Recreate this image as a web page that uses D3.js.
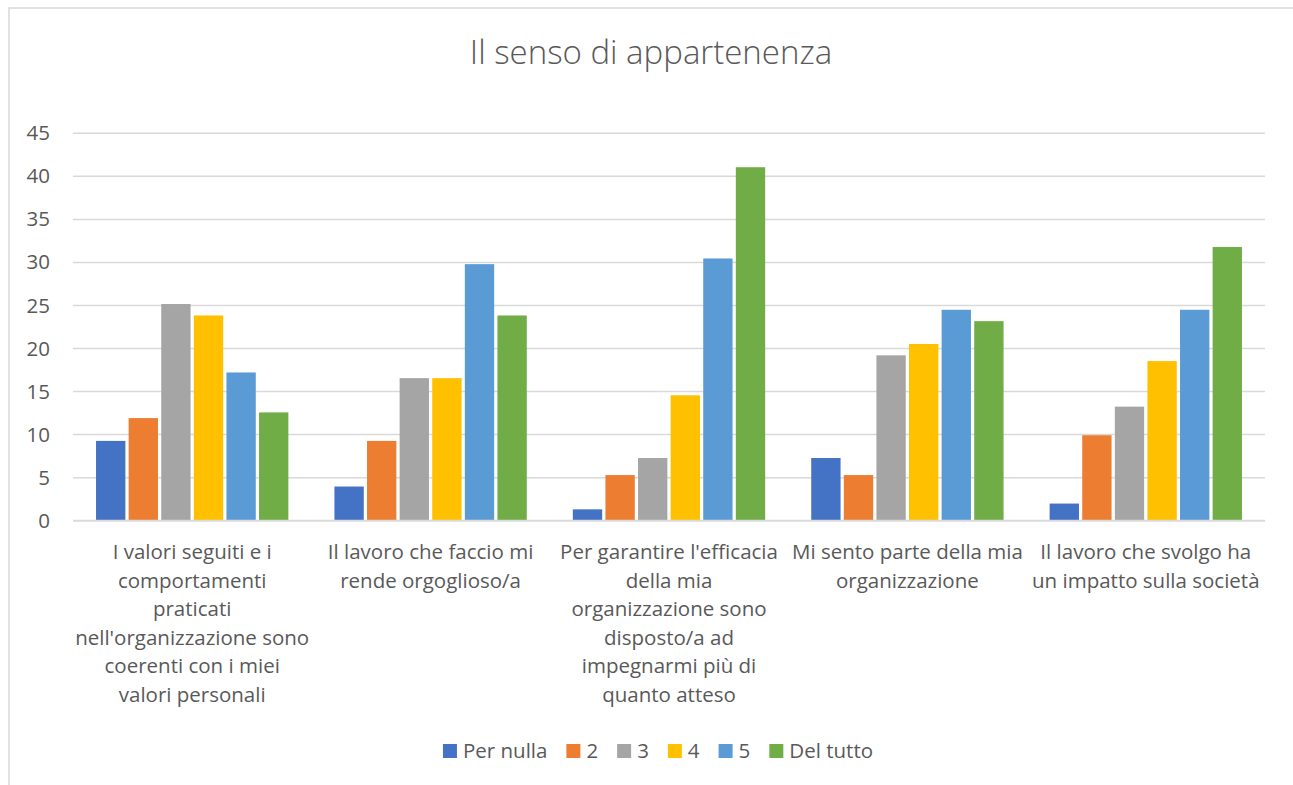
<!DOCTYPE html>
<html>
<head>
<meta charset="utf-8">
<script src="https://cdn.jsdelivr.net/npm/d3@7"></script>
<style>
  html, body { margin: 0; padding: 0; background: #fff; }
  svg { display: block; }
  text { font-family: "Open Sans", "Noto Sans", sans-serif; fill: #595959; }
</style>
</head>
<body>
<svg id="chart" width="1293" height="785"></svg>
<script>
// ---- data ----
const title = "Il senso di appartenenza";
const categories = [
  "I valori seguiti e i comportamenti praticati nell'organizzazione sono coerenti con i miei valori personali",
  "Il lavoro che faccio mi rende orgoglioso/a",
  "Per garantire l'efficacia della mia organizzazione sono disposto/a ad impegnarmi più di quanto atteso",
  "Mi sento parte della mia organizzazione",
  "Il lavoro che svolgo ha un impatto sulla società"
];
const categoryLines = [
  ["I valori seguiti e i", "comportamenti", "praticati", "nell'organizzazione sono", "coerenti con i miei", "valori personali"],
  ["Il lavoro che faccio mi", "rende orgoglioso/a"],
  ["Per garantire l'efficacia", "della mia", "organizzazione sono", "disposto/a ad", "impegnarmi più di", "quanto atteso"],
  ["Mi sento parte della mia", "organizzazione"],
  ["Il lavoro che svolgo ha", "un impatto sulla società"]
];
const seriesNames = ["Per nulla", "2", "3", "4", "5", "Del tutto"];
const perNulla = [9.27, 3.97, 1.32, 7.28, 1.99];
const s2 = [11.92, 9.27, 5.30, 5.30, 9.93];
const s3 = [25.17, 16.56, 7.28, 19.21, 13.25];
const s4 = [23.84, 16.56, 14.57, 20.53, 18.54];
const s5 = [17.22, 29.80, 30.46, 24.50, 24.50];
const delTutto = [12.58, 23.84, 41.06, 23.18, 31.79];
const seriesValues = [perNulla, s2, s3, s4, s5, delTutto];
const yTicks = [0, 5, 10, 15, 20, 25, 30, 35, 40, 45];
const colors = ["#4472C4", "#ED7D31", "#A5A5A5", "#FFC000", "#5B9BD5", "#70AD47"];

// ---- layout ----
const svg = d3.select("#chart");
const plotLeft = 73, plotRight = 1265, plotTop = 133.3, plotBottom = 520.7;

// chart frame
svg.append("rect")
  .attr("x", 9).attr("y", 8).attr("width", 1400).attr("height", 900)
  .attr("fill", "#fff").attr("stroke", "#d9d9d9").attr("stroke-width", 1.5);

// title
svg.append("text")
  .attr("x", 651).attr("y", 64)
  .attr("text-anchor", "middle")
  .style("font-size", "33px").style("font-weight", 300)
  .text(title);

const x0 = d3.scaleBand().domain(d3.range(categories.length)).range([plotLeft, plotRight]).padding(0);
const bw = x0.bandwidth();
const inset = bw * 0.0966;
const x1 = d3.scaleBand().domain(d3.range(seriesNames.length)).range([inset, bw - inset]).paddingInner(0.1).paddingOuter(0);
const y = d3.scaleLinear().domain([0, 45]).range([plotBottom, plotTop]);

// gridlines
svg.append("g").selectAll("line").data(yTicks).join("line")
  .attr("x1", plotLeft).attr("x2", plotRight)
  .attr("y1", d => y(d)).attr("y2", d => y(d))
  .attr("stroke", "#d9d9d9").attr("stroke-width", 1.5);

// y axis labels via d3 axis
const yAxis = d3.axisLeft(y).tickValues(yTicks).tickSize(0).tickPadding(0);
const gy = svg.append("g").attr("transform", `translate(50,0)`).call(yAxis);
gy.select(".domain").remove();
gy.selectAll("text").attr("x", 0).style("font-size", "20.5px").style("font-family", '"Open Sans", sans-serif').attr("fill", "#595959");

// bars
const groups = svg.append("g").selectAll("g").data(categories).join("g")
  .attr("transform", (d, i) => `translate(${x0(i)},0)`);
groups.selectAll("rect").data((d, i) => seriesValues.map((s, j) => ({ j, v: s[i] }))).join("rect")
  .attr("x", d => x1(d.j))
  .attr("width", x1.bandwidth())
  .attr("y", d => y(d.v))
  .attr("height", d => y(0) - y(d.v))
  .attr("fill", d => colors[d.j]);

// x axis line
svg.append("line")
  .attr("x1", plotLeft).attr("x2", plotRight)
  .attr("y1", y(0)).attr("y2", y(0))
  .attr("stroke", "#d9d9d9").attr("stroke-width", 1.8);

// category labels
const lab = svg.append("g").selectAll("text").data(categoryLines).join("text")
  .attr("text-anchor", "middle")
  .style("font-size", "20.5px");
lab.each(function (lines, i) {
  const t = d3.select(this);
  lines.forEach((ln, k) => {
    t.append("tspan").attr("x", x0(i) + bw / 2).attr("y", 559 + k * 28.6).text(ln);
  });
});

// legend
const legend = svg.append("g");
const items = legend.selectAll("g").data(seriesNames).join("g");
items.append("rect").attr("width", 14).attr("height", 14).attr("y", -7).attr("fill", (d, i) => colors[i]);
items.append("text").attr("x", 20).attr("y", 7).style("font-size", "20.5px").text(d => d);
let cx = 0;
items.each(function () {
  const g = d3.select(this);
  g.attr("transform", `translate(${cx},0)`);
  const w = g.select("text").node().getComputedTextLength();
  cx += 20 + w + 19;
});
const total = cx - 19;
legend.attr("transform", `translate(${658 - total / 2},751)`);
</script>
</body>
</html>
